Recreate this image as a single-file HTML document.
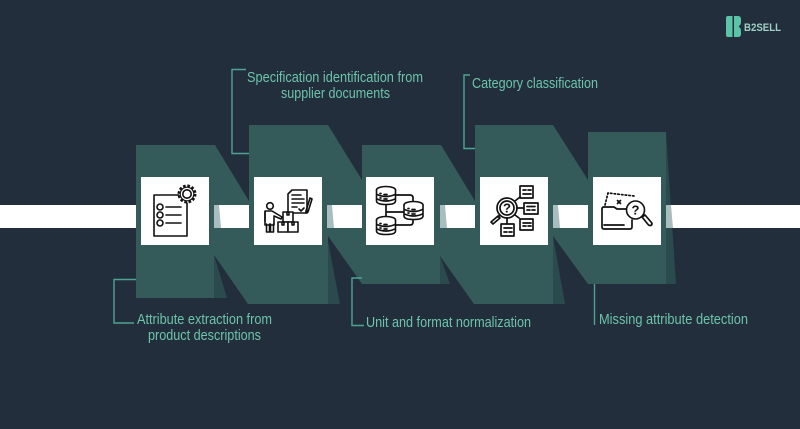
<!DOCTYPE html>
<html><head><meta charset="utf-8"><style>
html,body{margin:0;padding:0;background:#222e3c}
svg{display:block}
text{font-family:"Liberation Sans",sans-serif;font-size:15px;fill:#6cc4aa}
.i{fill:none;stroke:#111;stroke-width:1.600;stroke-linejoin:round;stroke-linecap:round}
.f{fill:#fff;stroke:#111;stroke-width:1.600;stroke-linejoin:round}
.q{font-size:13px;font-weight:bold;fill:#111;stroke:none}
</style></head><body>
<svg width="800" height="429" viewBox="0 0 800 429" xmlns="http://www.w3.org/2000/svg">
<rect width="800" height="429" fill="#222e3c"/>
<!-- folds -->
<g fill="#2b4a4d">
<path d="M214 255L227 298H214z"/>
<path d="M327 236L340 304H327z"/>
<path d="M440 256L450 284H440z"/>
<path d="M553 236L565 304H553z"/>
<path d="M666 132L676 284H666z"/>
</g>
<!-- ribbon -->
<g fill="#345a5a">
<path d="M136 145H215L249 201V205H214V228H249V304H248L214 255V298H136z"/>
<path d="M249 125H328L362 180V205H327V228H362V284L328 236V304H249z"/>
<path d="M362 145H441L475 201V205H440V228H475V304H474L440 256V284H362z"/>
<path d="M475 125H553L588 180V205H553V228H588V284L553 236V304H475z"/>
<path d="M588 132H666V284H588z"/>
</g>
<!-- white bar -->
<g fill="#fff">
<rect x="0" y="205" width="136" height="23"/>
<rect x="214" y="205" width="35" height="23"/>
<rect x="327" y="205" width="35" height="23"/>
<rect x="440" y="205" width="35" height="23"/>
<rect x="553" y="205" width="35" height="23"/>
<rect x="666" y="205" width="134" height="23"/>
</g>
<g fill="#a9bdbf">
<path d="M214 205h5l2 23h-7z"/><path d="M327 205h5l2 23h-7z"/><path d="M440 205h5l2 23h-7z"/><path d="M553 205h5l2 23h-7z"/><path d="M666 205h5l2 23h-7z"/>
</g>
<!-- connectors -->
<g fill="none" stroke="#4fa394" stroke-width="1.400">
<path d="M136 279.500H114V323H134"/>
<path d="M246 69.500H232V153.500H249"/>
<path d="M362 278H352V325.500H364"/>
<path d="M475 148.500H464V75H470"/>
<path d="M594.500 284V325"/>
</g>
<!-- white boxes -->
<g fill="#fff">
<rect x="141" y="177" width="68" height="68"/>
<rect x="254" y="177" width="68" height="68"/>
<rect x="366" y="177" width="68" height="68"/>
<rect x="480" y="177" width="68" height="68"/>
<rect x="593" y="177" width="68" height="68"/>
</g>
<!-- icon 1 -->
<g class="i">
<path d="M180 195H154V236H187V203"/>
<circle cx="160" cy="207" r="3"/><circle cx="160" cy="215" r="3"/><circle cx="160" cy="223" r="3"/>
<path d="M166 207H181M166 215H181M166 223H181"/>
<circle cx="187" cy="194" r="8" fill="#fff" stroke-width="3" stroke-dasharray="2.500 1.700" stroke-linecap="butt"/>
<circle cx="187" cy="194" r="6.800" fill="#fff" stroke-width="1.200"/>
<circle cx="187" cy="194" r="4.200"/>
</g>
<!-- icon 2 -->
<g class="i">
<circle cx="270" cy="206" r="3.300"/>
<path d="M265 211h7l10 6-1 2-7-3v9h-9z"/>
<path d="M265 212v9"/>
<path d="M266.500 224v8h3V224M270.500 224v8h3V224"/>
<path d="M288 213V194l4-4h15v23z"/>
<path d="M292 195h9M292 199h12M292 203h12M292 207h5"/>
<path d="M299 209l2 2 3-3"/>
<path d="M306 211l4-13 2 1-4 13-2 1z"/>
<rect class="f" x="283" y="212" width="10" height="10"/>
<rect class="f" x="278" y="222" width="10" height="10"/>
<rect class="f" x="288" y="222" width="10" height="10"/>
<path d="M287 212v3h2v-3M282 222v3h2v-3M292 222v3h2v-3"/>
</g>
<!-- icon 3 -->
<g class="i" style="stroke-width:1.700">
<path d="M396 195H410q3 0 3 3v6M396 225H410q3 0 3-3v-3M386 204V217M386 212H405"/>
<ellipse class="f" cx="386" cy="190" rx="9.500" ry="3.500"/>
<path class="f" d="M376.500 190v11q0 3.500 9.500 3.500t9.500-3.500v-11"/>
<path d="M377 194.500q9 4 18 0M377 199q9 4 18 0M380 198h1M384 199h3M380 193.500h1M384 194.500h3"/>
<ellipse class="f" cx="386" cy="220" rx="9.500" ry="3.500"/>
<path class="f" d="M376.500 220v11q0 3.500 9.500 3.500t9.500-3.500v-11"/>
<path d="M377 224.500q9 4 18 0M377 229q9 4 18 0M380 228h1M384 229h3M380 223.500h1M384 224.500h3"/>
<ellipse class="f" cx="413.500" cy="205" rx="9.500" ry="3.500"/>
<path class="f" d="M404 205v11q0 3.500 9.500 3.500t9.500-3.500v-11"/>
<path d="M404.500 209.500q9 4 18 0M404.500 214q9 4 18 0M408 208.500h1M412 209.500h3M408 213h1M412 214h3"/>
</g>
<!-- icon 4 -->
<g class="i" style="stroke-width:1.700">
<circle cx="507" cy="208" r="10"/><circle cx="507" cy="208" r="7"/>
<path d="M500 215l-2 2"/>
<path d="M498 216l-7 6 2 2 7-6z"/>
<path d="M515 201l5-4M517 208h6M507 218v5M515 215l4 3"/>
<rect x="520" y="186" width="13" height="12"/>
<rect x="524" y="203" width="14" height="11"/>
<rect x="520" y="219" width="13" height="11"/>
<rect x="501" y="224" width="13" height="12"/>
<path d="M523 190h3M528 190h3M523 194h8M527 206.500h8M527 210h3M532 210h3M523 223h8M523 226h3M528 226h3M504 228h8M504 232h3M509 232h3"/>
<text x="507" y="212.500" class="q" text-anchor="middle">?</text>
</g>
<!-- icon 5 -->
<g class="i" style="stroke-width:1.700">
<path d="M605 205l3-12 26 3" stroke-dasharray="1.500 2.200"/>
<path d="M617.500 200.500l3 3M620.500 200.500l-3 3"/>
<path d="M626 209H617l-3-2H604q-2 0-2 2v18q0 2 2 2h26q2 0 2-2v-7"/>
<path d="M604 225H624"/>
<circle class="f" cx="635.500" cy="210" r="9"/>
<path d="M642 217l3-2 6.500 7.500q1 1.500 0 2.500t-3 0z"/>
<text x="635.500" y="214.500" class="q" text-anchor="middle">?</text>
</g>
<!-- labels -->
<text x="137" y="324" textLength="135" lengthAdjust="spacingAndGlyphs">Attribute extraction from</text>
<text x="148" y="340" textLength="113" lengthAdjust="spacingAndGlyphs">product descriptions</text>
<text x="247" y="82" textLength="176" lengthAdjust="spacingAndGlyphs">Specification identification from</text>
<text x="281" y="98" textLength="109" lengthAdjust="spacingAndGlyphs">supplier documents</text>
<text x="366" y="327" textLength="165" lengthAdjust="spacingAndGlyphs">Unit and format normalization</text>
<text x="472" y="88" textLength="126" lengthAdjust="spacingAndGlyphs">Category classification</text>
<text x="599" y="324" textLength="149" lengthAdjust="spacingAndGlyphs">Missing attribute detection</text>
<!-- logo -->
<path d="M728 16h4.500v21H728q-2 0-2-2V18q0-2 2-2z" fill="#5cc4a6"/>
<path d="M734 16h4q3 0 3 3v3q0 3-2.500 4.500Q741 28 741 31v3q0 3-3 3h-4z" fill="#5cc4a6"/>
<text x="744" y="31" textLength="37" lengthAdjust="spacingAndGlyphs" style="font-size:11px;fill:#9fd0c4;font-weight:bold">B2SELL</text>
</svg>
</body></html>
